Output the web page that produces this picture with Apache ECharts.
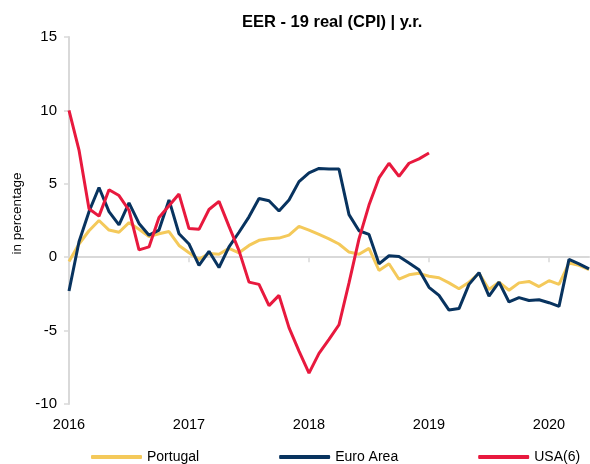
<!DOCTYPE html>
<html lang="en">
<head>
    <meta charset="UTF-8">
    <title>EER - 19 real (CPI) | y.r.</title>
    <script src="https://cdn.jsdelivr.net/npm/echarts@6/dist/echarts.min.js"></script>
    <style>
        body, html { margin: 0; padding: 0; background: #fff; }
        #main { width: 590px; height: 464px; }
    </style>
</head>
<body>
    <div id="main"></div>
    <script>
        // monthly data, Jan 2016 .. May 2020
        const years = ['2016', '2017', '2018', '2019', '2020'];
        const yTicks = [-10, -5, 0, 5, 10, 15];

        const portugal = [
            -0.3, 0.9, 1.8, 2.5, 1.85, 1.7, 2.35, 1.9, 1.4, 1.6, 1.75, 0.8,
            0.3, -0.15, 0.25, 0.2, 0.6, 0.3, 0.8, 1.15, 1.25, 1.3, 1.5, 2.1,
            1.85, 1.55, 1.25, 0.9, 0.35, 0.2, 0.6, -0.9, -0.45, -1.5, -1.2, -1.1,
            -1.3, -1.4, -1.75, -2.15, -1.7, -1.1, -2.2, -1.7, -2.25, -1.75, -1.65, -2.0,
            -1.6, -1.85, -0.4, -0.55, -0.85
        ];
        const euroArea = [
            -2.3, 1.05, 3.1, 4.75, 3.1, 2.2, 3.7, 2.3, 1.5, 1.85, 3.9, 1.6,
            0.9, -0.55, 0.4, -0.7, 0.7, 1.7, 2.75, 4.0, 3.85, 3.15, 3.9, 5.15,
            5.75, 6.05, 6.0, 6.0, 2.9, 1.8, 1.55, -0.45, 0.1, 0.05, -0.4, -0.85,
            -2.05, -2.6, -3.6, -3.5, -1.85, -1.05, -2.65, -1.7, -3.05, -2.75, -2.95, -2.9,
            -3.1, -3.35, -0.15, -0.45, -0.8
        ];
        const usa = [
            10.0, 7.3, 3.3, 2.8, 4.6, 4.2, 3.2, 0.5, 0.7, 2.7, 3.5, 4.3,
            1.95, 1.9, 3.25, 3.8, 2.1, 0.45, -1.7, -1.85, -3.3, -2.6, -4.8, -6.4,
            -7.9, -6.55, -5.6, -4.6, -1.75, 1.25, 3.55, 5.4, 6.4, 5.5, 6.4, 6.7,
            7.1
        ];

        // category per month, labelled by year
        const months = [];
        years.forEach(y => {
            for (let m = 1; m <= 12; m++) months.push(y + '-' + m);
        });
        months.length = portugal.length;

        const axisGrey = '#d9d9d9';
        const font = "'Liberation Sans', Arial, sans-serif";

        const chart = echarts.init(document.getElementById('main'));
        chart.setOption({
            animation: false,
            backgroundColor: '#fff',
            textStyle: { fontFamily: font },
            title: {
                text: 'EER - 19 real (CPI) | y.r.',
                left: 242,
                top: 14,
                padding: 0,
                textStyle: { fontSize: 16.5, fontWeight: 'bold', color: '#000', fontFamily: font }
            },
            legend: {
                data: ['Portugal', 'Euro Area', 'USA(6)'],
                left: 91,
                top: 450,
                padding: 0,
                itemWidth: 51,
                itemHeight: 4,
                itemGap: 80,
                icon: 'roundRect',
                textStyle: { fontSize: 14, color: '#000', fontFamily: font }
            },
            grid: { left: 69, right: 1, top: 37, bottom: 60 },
            xAxis: [{
                type: 'category',
                data: months,
                boundaryGap: false,
                axisLine: { show: false, onZero: false },
                axisTick: { show: false },
                axisLabel: {
                    interval: 11,
                    margin: 13,
                    fontSize: 14.5,
                    color: '#000',
                    formatter: v => v.split('-')[0]
                }
            }, {
                type: 'category',
                data: months,
                boundaryGap: false,
                position: 'bottom',
                axisLine: { show: true, onZero: true, lineStyle: { color: axisGrey, width: 2 } },
                axisTick: { show: true, interval: 11, length: 5, inside: false, lineStyle: { color: axisGrey, width: 1.5 } },
                axisLabel: { show: false }
            }],
            yAxis: {
                type: 'value',
                min: yTicks[0],
                max: yTicks[yTicks.length - 1],
                interval: 5,
                name: 'in percentage',
                nameLocation: 'middle',
                nameGap: 45,
                nameRotate: 90,
                nameTextStyle: { fontSize: 13.5, color: '#000', padding: [0, 0, 0, 14] },
                axisLine: { show: true, lineStyle: { color: axisGrey, width: 2 } },
                axisTick: { show: true, length: 5, lineStyle: { color: axisGrey, width: 1.5 } },
                axisLabel: { margin: 12, fontSize: 15, color: '#000' },
                splitLine: { show: false }
            },
            series: [
                {
                    name: 'Portugal',
                    type: 'line',
                    data: portugal,
                    symbol: 'none',
                    itemStyle: { color: '#F4C95A' },
                    lineStyle: { width: 3, color: '#F4C95A' },
                    z: 2
                },
                {
                    name: 'Euro Area',
                    type: 'line',
                    data: euroArea,
                    symbol: 'none',
                    itemStyle: { color: '#08335F' },
                    lineStyle: { width: 3, color: '#08335F' },
                    z: 3
                },
                {
                    name: 'USA(6)',
                    type: 'line',
                    data: usa,
                    symbol: 'none',
                    itemStyle: { color: '#E8193E' },
                    lineStyle: { width: 3, color: '#E8193E' },
                    z: 4
                }
            ]
        });
    </script>
</body>
</html>
